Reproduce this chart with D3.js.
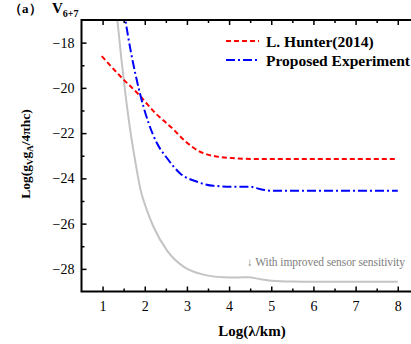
<!DOCTYPE html>
<html><head><meta charset="utf-8">
<script src="https://cdn.jsdelivr.net/npm/d3@7/dist/d3.min.js"></script>
<style>
html,body{margin:0;padding:0;background:#fff;}
svg{display:block;}
text{font-family:"Liberation Serif","Times New Roman",serif;}
</style></head>
<body>
<svg id="c" width="411" height="344"></svg>
<script>
const xTicks = [1,2,3,4,5,6,7,8];
const yTicks = [-18,-20,-22,-24,-26,-28];
const hunterX = [0.98, 1.46, 1.86, 2.25, 2.65, 2.97, 3.28, 3.6, 4.15, 4.62, 5.5, 6.5, 8];
const hunterY = [-18.6, -19.56, -20.3, -21.11, -21.78, -22.37, -22.79, -23.0, -23.11, -23.14, -23.14, -23.14, -23.14];
const blueX = [1.5, 1.54, 1.66, 1.78, 1.88, 1.98, 2.09, 2.29, 2.53, 2.84, 3.24, 3.63, 4.18, 4.5, 4.75, 5.0, 6, 7, 8];
const blueY = [-16.55, -17.0, -18.3, -19.4, -20.2, -20.9, -21.55, -22.45, -23.11, -23.78, -24.15, -24.33, -24.37, -24.37, -24.48, -24.55, -24.55, -24.55, -24.55];
const grayX = [1.3, 1.35, 1.45, 1.55, 1.65, 1.78, 1.9, 2.05, 2.21, 2.53, 2.92, 3.32, 3.87, 4.2, 4.45, 4.75, 5.0, 5.5, 6, 7, 8];
const grayY = [-16.0, -17.0, -18.8, -20.4, -21.8, -23.3, -24.5, -25.4, -26.15, -27.19, -27.9, -28.22, -28.37, -28.38, -28.37, -28.46, -28.52, -28.56, -28.57, -28.57, -28.57];
const legendLabels = ["L. Hunter(2014)", "Proposed Experiment"];

const svg = d3.select("#c");
const L = 81.5, T = 20, B = 291.5;
const x = d3.scaleLinear().domain([0.5, 8.5]).range([L, L + 8*42.17]);
const y = d3.scaleLinear().domain([-17, -29]).range([T, B]);
const R = x(8.5);

svg.append("defs").append("clipPath").attr("id","clip")
  .append("rect").attr("x",L).attr("y",T).attr("width",R-L).attr("height",B-T);

const g = svg.append("g").attr("clip-path","url(#clip)");
const line = d3.line().x(d=>x(d[0])).y(d=>y(d[1])).curve(d3.curveMonotoneX);

g.append("path").datum(grayX.map((v,i)=>[v,grayY[i]]))
  .attr("d",line).attr("fill","none").attr("stroke","#c4c4c4").attr("stroke-width",2);
g.append("path").datum(hunterX.map((v,i)=>[v,hunterY[i]]))
  .attr("d",line).attr("fill","none").attr("stroke","#ff0000").attr("stroke-width",2)
  .attr("stroke-dasharray","5,3");
g.append("path").datum(blueX.map((v,i)=>[v,blueY[i]]))
  .attr("d",line).attr("fill","none").attr("stroke","#0000ff").attr("stroke-width",2)
  .attr("stroke-dasharray","9,3,2,3");

// axes
const minorX = d3.range(0.5, 8.6, 1).filter(v=>v>0.5);
const minorY = [-19,-21,-23,-25,-27];
const ax = svg.append("g");
const bottom = d3.axisBottom(x).tickValues(xTicks).tickSize(-5).tickPadding(10).tickFormat(d3.format("d"));
ax.append("g").attr("transform",`translate(0,${B})`).call(bottom)
  .call(s=>{s.select(".domain").remove();s.selectAll("line").attr("stroke","#000").attr("stroke-width",1.5);
    s.selectAll("text").attr("font-size",14).attr("fill","#000").attr("font-family","Liberation Serif");});
ax.append("g").attr("transform",`translate(0,${B})`).call(d3.axisBottom(x).tickValues(minorX).tickSize(-3).tickFormat(""))
  .call(s=>{s.select(".domain").remove();s.selectAll("line").attr("stroke","#000").attr("stroke-width",1.5);});
ax.append("g").attr("transform",`translate(0,${T})`).call(d3.axisTop(x).tickValues(xTicks).tickSize(-5).tickFormat(""))
  .call(s=>{s.select(".domain").remove();s.selectAll("line").attr("stroke","#000").attr("stroke-width",1.5);});
ax.append("g").attr("transform",`translate(0,${T})`).call(d3.axisTop(x).tickValues(minorX).tickSize(-3).tickFormat(""))
  .call(s=>{s.select(".domain").remove();s.selectAll("line").attr("stroke","#000").attr("stroke-width",1.5);});
ax.append("g").attr("transform",`translate(${L},0)`).call(d3.axisLeft(y).tickValues(yTicks).tickSize(-5).tickPadding(7).tickFormat(d=>"\u2212"+Math.abs(d)))
  .call(s=>{s.select(".domain").remove();s.selectAll("line").attr("stroke","#000").attr("stroke-width",1.5);
    s.selectAll("text").attr("font-size",14).attr("fill","#000").attr("font-family","Liberation Serif");});
ax.append("g").attr("transform",`translate(${L},0)`).call(d3.axisLeft(y).tickValues(minorY).tickSize(-3).tickFormat(""))
  .call(s=>{s.select(".domain").remove();s.selectAll("line").attr("stroke","#000").attr("stroke-width",1.5);});

// frame
svg.append("path").attr("d",`M${R},${T}H${L}V${B}H${R}`).attr("fill","none").attr("stroke","#000").attr("stroke-width",2);

// axis titles
svg.append("text").attr("x",252).attr("y",336).attr("text-anchor","middle")
  .attr("font-size",15).attr("font-weight","bold").text("Log(λ/km)");
const yt = svg.append("text").attr("transform","translate(30,154) rotate(-90)").attr("text-anchor","middle")
  .attr("font-size",13.5).attr("font-weight","bold");
yt.append("tspan").text("Log(g");
yt.append("tspan").attr("font-size",9).attr("dy",3).text("V");
yt.append("tspan").attr("dy",-3).text("g");
yt.append("tspan").attr("font-size",9).attr("dy",3).text("A");
yt.append("tspan").attr("dy",-3).text("/4πhc)");

// title
svg.append("text").attr("x",9).attr("y",13).attr("font-size",13).attr("font-weight","bold").text("（a）");
const vt = svg.append("text").attr("x",52).attr("y",13).attr("font-size",15).attr("font-weight","bold");
vt.append("tspan").text("V");
vt.append("tspan").attr("font-size",10).attr("dy",4).text("6+7");

// legend
const lg = svg.append("g");
lg.append("line").attr("x1",226).attr("x2",259).attr("y1",41).attr("y2",41)
  .attr("stroke","#ff0000").attr("stroke-width",2).attr("stroke-dasharray","5,3");
lg.append("line").attr("x1",226).attr("x2",260).attr("y1",60).attr("y2",60)
  .attr("stroke","#0000ff").attr("stroke-width",2).attr("stroke-dasharray","9,3,2,3");
lg.append("text").attr("x",266).attr("y",46.5).attr("font-size",15.5).attr("font-weight","bold").text(legendLabels[0]);
lg.append("text").attr("x",266).attr("y",65.5).attr("font-size",15.5).attr("font-weight","bold").text(legendLabels[1]);

// annotation
svg.append("text").attr("x",247).attr("y",265.5).attr("font-size",11.5)
  .attr("textLength",158).attr("lengthAdjust","spacing")
  .attr("fill","#808080").text("↓ With improved sensor sensitivity");
</script>
</body></html>
